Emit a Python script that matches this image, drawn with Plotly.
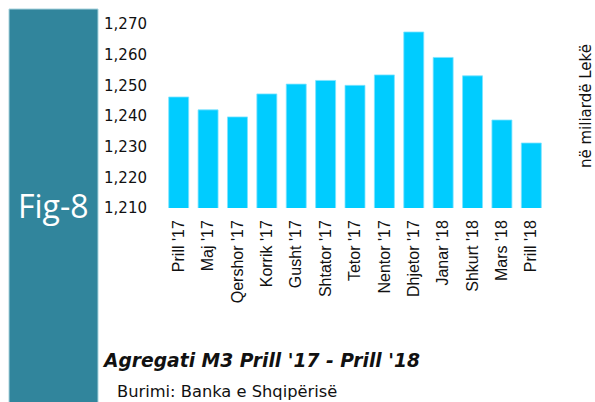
import plotly.graph_objects as go

# ---- data ----
months = ["Prill '17", "Maj '17", "Qershor '17", "Korrik '17", "Gusht '17",
          "Shtator '17", "Tetor '17", "Nentor '17", "Dhjetor '17", "Janar '18",
          "Shkurt '18", "Mars '18", "Prill '18"]
m3_values = [1246.2, 1242.0, 1239.7, 1247.2, 1250.4, 1251.6, 1250.0,
             1253.4, 1267.4, 1259.1, 1253.1, 1238.7, 1231.2]
y_ticks = [1210, 1220, 1230, 1240, 1250, 1260, 1270]

title_text = "Agregati M3 Prill '17 - Prill '18"
source_text = "Burimi: Banka e Shqipërisë"
unit_text = "në miliardë Lekë"
fig_label = "Fig-8"

# ---- layout geometry (pixels, page coordinates) ----
W, H = 595, 402
L = 164
T = 24
B = H - 208
R = W - 546
PW = W - L - R
PH = H - T - B


def px(x):
    return (x - L) / PW


def py(y):
    return (H - B - y) / PH


fig = go.Figure()
fig.add_trace(go.Bar(
    x=months, y=m3_values,
    marker=dict(color="#00CCFF", line=dict(color="#7FE3FF", width=0.8)),
    width=0.68,
))

fig.update_layout(
    width=W, height=H,
    margin=dict(l=L, r=R, t=T, b=B, pad=0),
    paper_bgcolor="white", plot_bgcolor="white",
    showlegend=False,
    font=dict(family="DejaVu Sans", color="#111111"),
    xaxis=dict(
        showgrid=False, zeroline=False, showline=False,
        tickangle=-90, ticks="",
        tickfont=dict(family="Liberation Sans", size=16, color="#111111"),
        ticklabelstandoff=8,
    ),
    yaxis=dict(
        range=[1210, 1270], showgrid=False, zeroline=False, showline=False,
        tickvals=y_ticks, tickformat=",d", ticks="",
        tickfont=dict(family="DejaVu Sans", size=15, color="#111111"),
        ticklabelstandoff=16,
    ),
    shapes=[
        dict(type="rect", xref="paper", yref="paper",
             x0=px(9), x1=px(98), y0=py(420), y1=py(9),
             fillcolor="#31859C", line=dict(color="#A8D3DD", width=1),
             layer="above"),
    ],
    annotations=[
        dict(text=fig_label, xref="paper", yref="paper",
             x=px(53.5), y=py(205), xanchor="center", yanchor="middle",
             showarrow=False,
             font=dict(family="Open Sans", size=32, color="white")),
        dict(text="<b><i>" + title_text + "</i></b>", xref="paper", yref="paper",
             x=px(100), y=py(360), xanchor="left", yanchor="middle",
             showarrow=False,
             font=dict(family="DejaVu Sans", size=18.7, color="#111111")),
        dict(text=source_text, xref="paper", yref="paper",
             x=px(115), y=py(391), xanchor="left", yanchor="middle",
             showarrow=False,
             font=dict(family="DejaVu Sans", size=16.3, color="#111111")),
        dict(text=unit_text, xref="paper", yref="paper",
             x=px(585.5), y=py(106.5), xanchor="center", yanchor="middle",
             textangle=-90, showarrow=False,
             font=dict(family="DejaVu Sans", size=15, color="#111111")),
    ],
)

fig.write_html(
    "out.html",
    config={"displayModeBar": False},
    post_script="document.body.style.margin='0';document.body.style.overflow='hidden';",
)
